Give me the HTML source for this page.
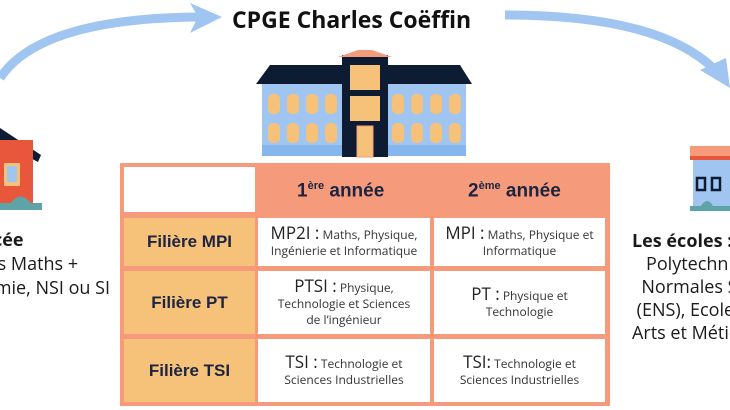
<!DOCTYPE html>
<html><head><meta charset="utf-8"><style>
body{margin:0;width:730px;height:410px;overflow:hidden;background:#fff;position:relative;font-family:"Open Sans","DejaVu Sans","Liberation Sans",sans-serif;color:#1a1a1a}
.a{position:absolute}
.c{position:absolute;background:#fff;display:flex;align-items:center;justify-content:center;text-align:center;font-size:12px;line-height:16px;color:#333}
.c b{font-weight:normal;font-size:17px;color:#222}
.f{background:#f6c27a;font-family:"Liberation Sans",sans-serif;font-weight:bold;font-size:17px;color:#1c2440}
.h{position:absolute;font-family:"Liberation Sans",sans-serif;font-weight:bold;font-size:19px;color:#1c2440}
</style></head><body>
<svg class="a" style="left:0;top:0" width="730" height="410">
<path d="M0,78 Q40,18 200,17" fill="none" stroke="#9fc5f0" stroke-width="9"/>
<polygon points="190,3 222,17 190,33 198,17" fill="#9fc5f0"/>
<path d="M505,15 Q660,15 715,70" fill="none" stroke="#9fc5f0" stroke-width="9"/>
<polygon points="700,70 730,88 726,58" fill="#9fc5f0"/>
<polygon points="0,128 0,142 38,162 41,155" fill="#0d1b33"/>
<rect x="0" y="140" width="33" height="65" fill="#e8573c"/>
<rect x="4" y="163" width="16" height="23" fill="#f6c27a"/><rect x="7" y="166" width="10" height="16" fill="#9fc5f0"/>
<path d="M8,208 Q20,185 34,208 Z" fill="#5ea3a8"/><rect x="0" y="203" width="42" height="7" fill="#5ea3a8"/>
<polygon points="256,84 270,65 345,65 345,84" fill="#0d1b33"/>
<polygon points="388,84 388,65 460,65 472,84" fill="#0d1b33"/>
<rect x="262" y="84" width="84" height="72" fill="#9fc5f0"/>
<rect x="386" y="84" width="80" height="72" fill="#9fc5f0"/>
<rect x="262" y="145" width="84" height="11" fill="#85b6ee"/><rect x="386" y="145" width="80" height="11" fill="#85b6ee"/>
<rect x="342" y="55" width="46" height="102" fill="#0d1b33"/>
<polygon points="338,57 358,50 372,50 392,57" fill="#f59b7c"/>
<rect x="350" y="65" width="30" height="25" fill="#f6c27a"/><rect x="350" y="96" width="30" height="25" fill="#f6c27a"/>
<rect x="357" y="126" width="16" height="31" fill="#f6c27a" stroke="#f59b7c"/>
<g fill="#f6c27a">
<rect x="268" y="94" width="12" height="20" rx="5"/><rect x="287" y="94" width="12" height="20" rx="5"/><rect x="306" y="94" width="12" height="20" rx="5"/><rect x="325" y="94" width="12" height="20" rx="5"/>
<rect x="268" y="123" width="12" height="20" rx="5"/><rect x="287" y="123" width="12" height="20" rx="5"/><rect x="306" y="123" width="12" height="20" rx="5"/><rect x="325" y="123" width="12" height="20" rx="5"/>
<rect x="392" y="94" width="12" height="20" rx="5"/><rect x="411" y="94" width="12" height="20" rx="5"/><rect x="430" y="94" width="12" height="20" rx="5"/><rect x="449" y="94" width="12" height="20" rx="5"/>
<rect x="392" y="123" width="12" height="20" rx="5"/><rect x="411" y="123" width="12" height="20" rx="5"/><rect x="430" y="123" width="12" height="20" rx="5"/><rect x="449" y="123" width="12" height="20" rx="5"/>
</g>
<rect x="690" y="146" width="40" height="12" fill="#f59b7c"/><rect x="690" y="156" width="40" height="4" fill="#e8573c"/>
<rect x="693" y="160" width="37" height="47" fill="#9fc5f0"/>
<rect x="697" y="178" width="8" height="12" fill="none" stroke="#0d1b33" stroke-width="2.5"/>
<rect x="712" y="178" width="8" height="12" fill="none" stroke="#0d1b33" stroke-width="2.5"/>
<path d="M700,208 Q707,194 714,208Z" fill="#5ea3a8"/><rect x="690" y="206" width="40" height="5" fill="#5ea3a8"/>
</svg>
<div class="a" style="left:232px;top:3px;font-size:23px;font-weight:bold;color:#111">CPGE Charles Coëffin</div>
<div class="a" style="left:-152px;top:228px;width:300px;font-size:18px;line-height:24px;text-align:center;white-space:nowrap"><b>Lycée</b><br>Spécialités Maths +<br>Physique-Chimie, NSI ou SI</div>
<div class="a" style="left:632px;top:230px;width:200px;font-size:18px;line-height:23px;white-space:nowrap"><b>Les écoles :</b><br>&nbsp;&nbsp;&nbsp;Polytechnique,<br>&nbsp;&nbsp;Normales Sup.<br>&nbsp;(ENS), Ecoles<br>Arts et Métiers</div>
<div class="a" style="left:120px;top:163px;width:490px;height:243px;background:#f59b7c"></div>
<div class="c" style="left:124px;top:167px;width:131px;height:45px"></div>
<div class="h" style="left:297px;top:180px">1<sup style="font-size:11px">ère</sup> année</div>
<div class="h" style="left:468px;top:180px">2<sup style="font-size:11px">ème</sup> année</div>
<div class="c f" style="left:124px;top:218px;width:131px;height:48px">Filière MPI</div>
<div class="c f" style="left:124px;top:271px;width:131px;height:63px">Filière PT</div>
<div class="c f" style="left:124px;top:339px;width:131px;height:63px">Filière TSI</div>
<div class="c" style="left:258px;top:218px;width:172px;height:48px"><div><b>MP2I :</b> Maths, Physique,<br>Ingénierie et Informatique</div></div>
<div class="c" style="left:434px;top:218px;width:171px;height:48px"><div><b>MPI :</b> Maths, Physique et<br>Informatique</div></div>
<div class="c" style="left:258px;top:271px;width:172px;height:63px"><div><b>PTSI :</b> Physique,<br>Technologie et Sciences<br>de l’ingénieur</div></div>
<div class="c" style="left:434px;top:271px;width:171px;height:63px"><div><b>PT :</b> Physique et<br>Technologie</div></div>
<div class="c" style="left:258px;top:339px;width:172px;height:63px"><div><b>TSI :</b> Technologie et<br>Sciences Industrielles</div></div>
<div class="c" style="left:434px;top:339px;width:171px;height:63px"><div><b>TSI:</b> Technologie et<br>Sciences Industrielles</div></div>
</body></html>
